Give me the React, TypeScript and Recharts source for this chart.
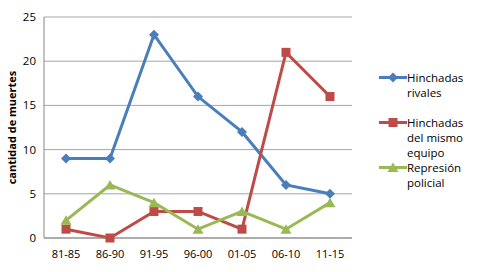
import React from 'react';
import { LineChart, Line, XAxis, YAxis, CartesianGrid } from 'recharts';

const periods = ['81-85', '86-90', '91-95', '96-00', '01-05', '06-10', '11-15'];
const rivales = [9, 9, 23, 16, 12, 6, 5];
const mismoEquipo = [1, 0, 3, 3, 1, 21, 16];
const represion = [2, 6, 4, 1, 3, 1, 4];
const yTicks = [0, 5, 10, 15, 20, 25];

const data = periods.map((p, i) => ({
  period: p,
  rivales: rivales[i],
  mismo: mismoEquipo[i],
  represion: represion[i],
}));

const BLUE = '#4a7ebb';
const RED = '#be4b48';
const GREEN = '#98b954';
const FONT = '"Open Sans", "Noto Sans", sans-serif';

const Diamond = ({ cx, cy, fill }: any) => (
  <polygon points={`${cx},${cy - 5} ${cx + 5},${cy} ${cx},${cy + 5} ${cx - 5},${cy}`} fill={fill} />
);
const Square = ({ cx, cy, fill }: any) => (
  <rect x={cx - 4.5} y={cy - 4.5} width={9} height={9} fill={fill} />
);
const Triangle = ({ cx, cy, fill }: any) => (
  <polygon points={`${cx},${cy - 5} ${cx + 5.5},${cy + 4.5} ${cx - 5.5},${cy + 4.5}`} fill={fill} />
);

const legendItems = [
  { lines: ['Hinchadas', 'rivales'], color: BLUE, Marker: Diamond, top: 70 },
  { lines: ['Hinchadas', 'del mismo', 'equipo'], color: RED, Marker: Square, top: 115 },
  { lines: ['Represión', 'policial'], color: GREEN, Marker: Triangle, top: 160 },
];

// legend drawn outside the chart so it doesn't eat into the plot area
const ChartLegend = () => (
  <div style={{ position: 'absolute', left: 378, top: 0, width: 99 }}>
    {legendItems.map((it) => (
      <div key={it.lines[0] + it.top} style={{ position: 'absolute', left: 0, top: it.top }}>
        <svg width={30} height={15} style={{ position: 'absolute', left: 0, top: 0 }}>
          <line x1={1} y1={7.5} x2={29} y2={7.5} stroke={it.color} strokeWidth={3} />
          <it.Marker cx={15} cy={7.5} fill={it.color} />
        </svg>
        <div
          style={{
            position: 'absolute',
            left: 29,
            top: 0,
            fontFamily: FONT,
            fontSize: 11.5,
            lineHeight: '15px',
            color: '#000',
            whiteSpace: 'nowrap',
          }}
        >
          {it.lines.map((l) => (
            <div key={l}>{l}</div>
          ))}
        </div>
      </div>
    ))}
  </div>
);

export default function App() {
  return (
    <div style={{ position: 'absolute', left: 0, top: 0, width: 477, height: 272, background: '#fff' }}>
      <LineChart
        width={477}
        height={272}
        data={data}
        margin={{ top: 17, right: 125, left: 0, bottom: 4 }}
      >
        <CartesianGrid vertical={false} stroke="#a6a6a6" />
        <XAxis
          dataKey="period"
          axisLine={{ stroke: '#868686' }}
          tickLine={false}
          tick={{ fontSize: 11, fill: '#000', fontFamily: FONT, dy: 4 }}
          height={30}
          interval={0}
          padding={{ left: 22, right: 22 }}
        />
        <YAxis
          domain={[0, 25]}
          ticks={yTicks}
          width={44}
          axisLine={{ stroke: '#868686' }}
          tickLine={false}
          tick={{ fontSize: 11.5, fill: '#000', fontFamily: FONT }}
          label={{
            value: 'cantidad de muertes',
            angle: -90,
            position: 'insideLeft',
            offset: 12,
            style: { fontSize: 11, fontWeight: 'bold', fill: '#000', fontFamily: FONT, textAnchor: 'middle' },
          }}
        />
        <Line
          type="linear"
          dataKey="rivales"
          stroke={BLUE}
          strokeWidth={3}
          dot={<Diamond fill={BLUE} />}
          isAnimationActive={false}
        />
        <Line
          type="linear"
          dataKey="mismo"
          stroke={RED}
          strokeWidth={3}
          dot={<Square fill={RED} />}
          isAnimationActive={false}
        />
        <Line
          type="linear"
          dataKey="represion"
          stroke={GREEN}
          strokeWidth={3}
          dot={<Triangle fill={GREEN} />}
          isAnimationActive={false}
        />
      </LineChart>
      <ChartLegend />
    </div>
  );
}
